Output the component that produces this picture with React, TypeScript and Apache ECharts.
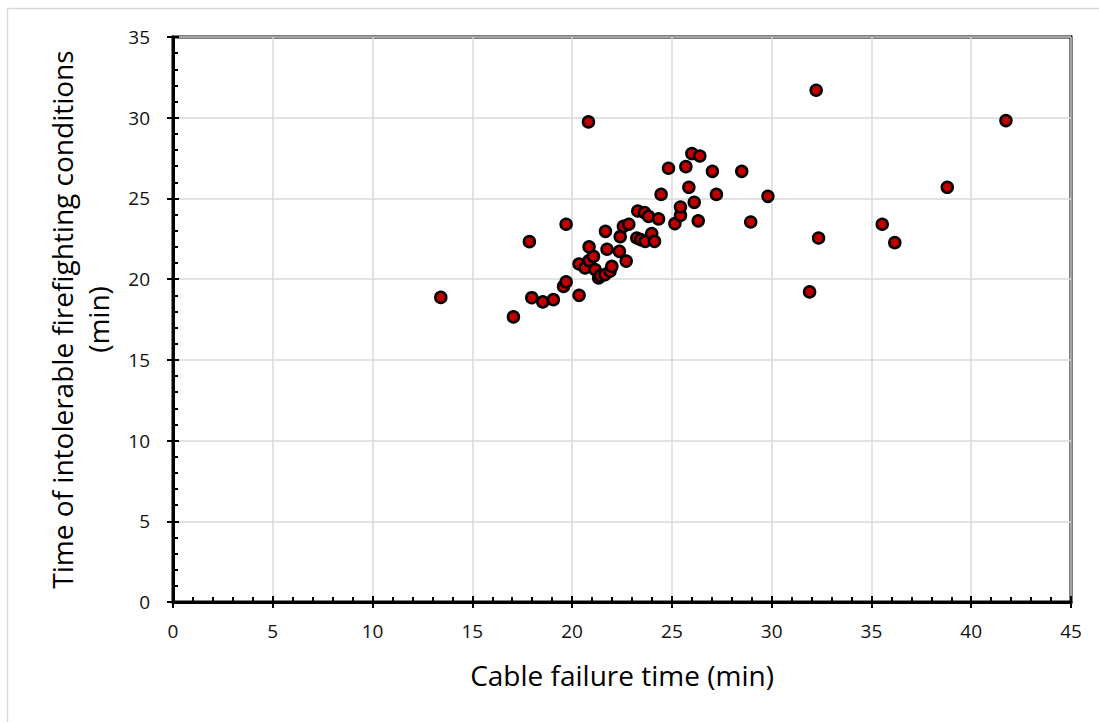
import React, { useEffect, useRef } from "react";
import * as echarts from "echarts";

const xTitle = "Cable failure time (min)";
const yTitle = "Time of intolerable firefighting conditions\n(min)";

const cableFailure = [
  13.42, 17.06, 17.98, 18.53, 19.06, 17.86, 19.70, 20.82, 20.35, 19.57,
  19.70, 20.35, 20.65, 20.85, 21.07, 20.85, 21.15, 21.33, 21.42, 21.65,
  21.90, 21.99, 21.75, 22.37, 22.71, 21.67, 22.41, 22.57, 22.84, 23.24,
  23.44, 23.66, 23.99, 24.13, 23.29, 23.63, 23.83, 24.33, 24.46, 24.83,
  25.15, 25.43, 25.43, 25.70, 25.85, 26.00, 26.40, 26.12, 26.32, 27.03,
  27.23, 28.50, 28.95, 29.81, 31.90, 32.23, 32.35, 35.54, 36.17, 38.80,
  41.74,
];

const intolerable = [
  18.87, 17.66, 18.85, 18.59, 18.73, 22.32, 23.40, 29.74, 19.00, 19.55,
  19.83, 20.94, 20.69, 21.15, 21.41, 22.00, 20.59, 20.07, 20.22, 20.28,
  20.49, 20.79, 21.85, 21.72, 21.12, 22.96, 22.63, 23.27, 23.40, 22.55,
  22.45, 22.34, 22.82, 22.34, 24.22, 24.12, 23.89, 23.73, 25.25, 26.87,
  23.44, 23.95, 24.47, 26.97, 25.69, 27.78, 27.63, 24.76, 23.61, 26.68,
  25.25, 26.68, 23.54, 25.13, 19.21, 31.70, 22.55, 23.40, 22.26, 25.69,
  29.82,
];

const FONT = "'Open Sans'";

export default function App() {
  const ref = useRef<HTMLDivElement>(null);
  useEffect(() => {
    if (!ref.current) return;
    const chart = echarts.init(ref.current, undefined, { renderer: "svg" });
    const points = cableFailure.map((x, i) => [x, intolerable[i]]);
    const tickStyle = { color: "#000", width: 2 };
    chart.setOption({
      animation: false,
      backgroundColor: "#fff",
      textStyle: { fontFamily: FONT },
      graphic: [
        {
          type: "rect",
          shape: { x: 7.5, y: 8.5, width: 1200, height: 800 },
          style: { fill: "none", stroke: "#d9d9d9", lineWidth: 1.5 },
          silent: true,
          z: -10,
        },
      ],
      grid: {
        left: 173,
        top: 37,
        right: 28,
        bottom: 120,
        show: true,
        borderColor: "#000",
        borderWidth: 3,
        backgroundColor: "#fff",
      },
      xAxis: [
        {
          type: "value",
          min: 0,
          max: 45,
          interval: 5,
          position: "bottom",
          name: xTitle,
          nameLocation: "middle",
          nameGap: 59,
          nameTextStyle: { fontSize: 28, color: "#000", fontFamily: FONT },
          axisLine: { show: true, onZero: false, lineStyle: { color: "#000", width: 3 } },
          axisTick: { show: true, inside: false, length: 6, lineStyle: tickStyle },
          axisLabel: { fontSize: 19, color: "#111", margin: 19, fontFamily: FONT },
          splitLine: { show: true, lineStyle: { color: "#d9d9d9", width: 1.5 } },
        },
        {
          type: "value",
          min: 0,
          max: 45,
          interval: 5,
          position: "bottom",
          axisLine: { show: false, onZero: false },
          axisTick: { show: true, inside: true, length: 6, lineStyle: tickStyle },
          minorTick: { show: true, splitNumber: 5, length: 5, lineStyle: tickStyle },
          axisLabel: { show: false },
          splitLine: { show: false },
        },
      ],
      yAxis: [
        {
          type: "value",
          min: 0,
          max: 35,
          interval: 5,
          position: "left",
          name: yTitle,
          nameLocation: "middle",
          nameGap: 57,
          nameTextStyle: { fontSize: 28, color: "#000", lineHeight: 36, fontFamily: FONT },
          axisLine: { show: true, onZero: false, lineStyle: { color: "#000", width: 3 } },
          axisTick: { show: true, inside: false, length: 6, lineStyle: tickStyle },
          axisLabel: { fontSize: 19, color: "#111", margin: 23, fontFamily: FONT },
          splitLine: { show: true, lineStyle: { color: "#d9d9d9", width: 1.5 } },
        },
        {
          type: "value",
          min: 0,
          max: 35,
          interval: 5,
          position: "left",
          axisLine: { show: false, onZero: false },
          axisTick: { show: true, inside: true, length: 6, lineStyle: tickStyle },
          minorTick: { show: true, splitNumber: 5, length: 5, lineStyle: tickStyle },
          axisLabel: { show: false },
          splitLine: { show: false },
        },
      ],
      series: [
        {
          type: "scatter",
          xAxisIndex: 0,
          yAxisIndex: 0,
          data: points,
          symbol: "circle",
          symbolSize: 11,
          itemStyle: { color: "#C00000", borderColor: "#000", borderWidth: 2.5, opacity: 1 },
          z: 5,
        },
      ],
    });
    return () => chart.dispose();
  }, []);
  return (
    <div
      ref={ref}
      style={{ position: "fixed", left: 0, top: 0, width: 1099, height: 722 }}
    />
  );
}
